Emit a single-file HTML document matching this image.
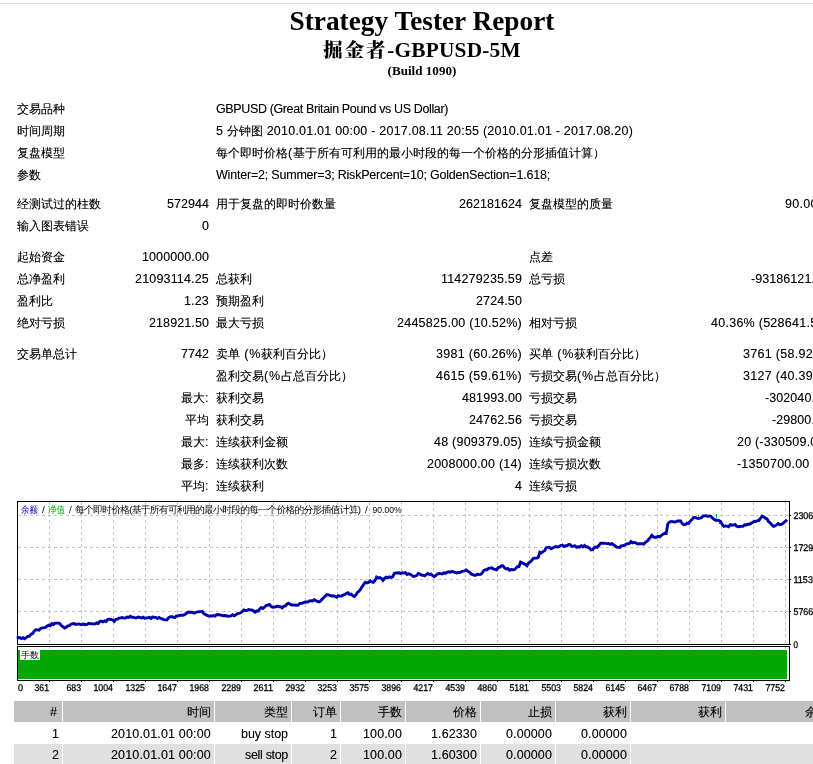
<!DOCTYPE html>
<html lang="zh-CN"><head><meta charset="utf-8"><title>Strategy Tester: 掘金者-GBPUSD-5M</title>
<style>
html,body{margin:0;padding:0;background:#fff}
#p{position:relative;width:813px;height:764px;overflow:hidden;background:#fff;color:#000;font:12px/22px "Liberation Sans","WenQuanYi Zen Hei",sans-serif}
.top{position:absolute;left:0;top:3px;width:813px;height:1px;background:#dedede}
.h{position:absolute;left:12px;width:820px;text-align:center;font-family:"Liberation Serif","Noto Serif CJK SC",serif;font-weight:bold;white-space:nowrap}
.h1{top:5px;font-size:27.3px;line-height:32px}
.h2{top:37px;font-size:21.33px;line-height:26px;letter-spacing:0.2px}
.h3{top:63px;font-size:13.1px;line-height:16px}
.hc{font-size:19.4px;letter-spacing:1.93px;font-weight:900;position:relative;top:-0.5px}
.t{position:absolute;white-space:pre;height:22px;line-height:22px;font-size:12px}
.t.r{width:400px;text-align:right}
.c{font-family:"WenQuanYi Zen Hei",sans-serif;font-size:12px;letter-spacing:0;text-shadow:0 0 0 rgba(0,0,0,.4)}
.a{font-size:12.5px;text-shadow:0 0 0 rgba(0,0,0,.35)}
.bg{position:absolute}
.ch{position:absolute;left:0;top:495px}
</style></head><body><div id="p">
<div class="top"></div>
<div class="h h1">Strategy Tester Report</div>
<div class="h h2"><span class="hc">掘金者</span>-GBPUSD-5M</div>
<div class="h h3">(Build 1090)</div>
<div class="bg" style="left:14px;top:701px;width:48px;height:21px;background:#c0c0c0"></div>
<div class="bg" style="left:63px;top:701px;width:151px;height:21px;background:#c0c0c0"></div>
<div class="bg" style="left:215px;top:701px;width:76px;height:21px;background:#c0c0c0"></div>
<div class="bg" style="left:292px;top:701px;width:48px;height:21px;background:#c0c0c0"></div>
<div class="bg" style="left:341px;top:701px;width:64px;height:21px;background:#c0c0c0"></div>
<div class="bg" style="left:406px;top:701px;width:74px;height:21px;background:#c0c0c0"></div>
<div class="bg" style="left:481px;top:701px;width:74px;height:21px;background:#c0c0c0"></div>
<div class="bg" style="left:556px;top:701px;width:74px;height:21px;background:#c0c0c0"></div>
<div class="bg" style="left:631px;top:701px;width:94px;height:21px;background:#c0c0c0"></div>
<div class="bg" style="left:726px;top:701px;width:106px;height:21px;background:#c0c0c0"></div>
<div class="bg" style="left:14px;top:744px;width:48px;height:21px;background:#e0e0e0"></div>
<div class="bg" style="left:63px;top:744px;width:151px;height:21px;background:#e0e0e0"></div>
<div class="bg" style="left:215px;top:744px;width:76px;height:21px;background:#e0e0e0"></div>
<div class="bg" style="left:292px;top:744px;width:48px;height:21px;background:#e0e0e0"></div>
<div class="bg" style="left:341px;top:744px;width:64px;height:21px;background:#e0e0e0"></div>
<div class="bg" style="left:406px;top:744px;width:74px;height:21px;background:#e0e0e0"></div>
<div class="bg" style="left:481px;top:744px;width:74px;height:21px;background:#e0e0e0"></div>
<div class="bg" style="left:556px;top:744px;width:74px;height:21px;background:#e0e0e0"></div>
<div class="bg" style="left:631px;top:744px;width:201px;height:21px;background:#e0e0e0"></div>
<svg class="ch" width="813" height="205" viewBox="0 495 813 205">
<path d="M49.5 502V650M81.5 502V650M113.5 502V650M145.5 502V650M177.5 502V650M209.5 502V650M241.5 502V650M273.5 502V650M305.5 502V650M337.5 502V650M369.5 502V650M401.5 502V650M433.5 502V650M465.5 502V650M497.5 502V650M529.5 502V650M561.5 502V650M593.5 502V650M625.5 502V650M657.5 502V650M689.5 502V650M721.5 502V650M753.5 502V650M785.5 502V650M18 515.5H789M18 547.5H789M18 579.5H789M18 611.5H789" fill="none" stroke="#c4c4c4" stroke-width="1" stroke-dasharray="3 3" shape-rendering="crispEdges"/>
<path d="M17.5 501.5H789.5V644.5H17.5ZM17.5 646.5H789.5V680.5H17.5Z" fill="none" stroke="#000" stroke-width="1" shape-rendering="crispEdges"/>
<path d="M49.5 681V682M81.5 681V682M113.5 681V682M145.5 681V682M177.5 681V682M209.5 681V682M241.5 681V682M273.5 681V682M305.5 681V682M337.5 681V682M369.5 681V682M401.5 681V682M433.5 681V682M465.5 681V682M497.5 681V682M529.5 681V682M561.5 681V682M593.5 681V682M625.5 681V682M657.5 681V682M689.5 681V682M721.5 681V682M753.5 681V682M785.5 681V682M790 515.5H791M790 547.5H791M790 579.5H791M790 611.5H791M790 644.5H791" fill="none" stroke="#000" stroke-width="1" shape-rendering="crispEdges"/>
<rect x="18" y="650" width="769" height="29" fill="#00a800" shape-rendering="crispEdges"/>
<rect x="20" y="650" width="20" height="10" fill="#fff" shape-rendering="crispEdges"/>
<path d="M716.5 514V518M719.5 521V524M666.5 529V533M698.5 515V517" fill="none" stroke="#00a800" stroke-width="1"/>
<path d="M18.2 637.6L19.8 637.5L21.4 638.6L23 637.7L24.6 638.8L26.2 637.7L27.8 636.4L29.4 636.4L31 634.2L32.6 633.5L34.2 631.2L35.8 629.7L37.4 629.9L39 630.2L40.6 628.5L42.2 627.9L43.8 627.8L45.4 627.5L47 626.2L48.6 625.2L50.2 625.7L51.8 623.6L53.4 624.6L55 623.2L56.6 623.1L58.2 623.1L59.8 623.6L61.4 625.7L63 626.7L64.6 628.1L66.2 627.2L67.8 625.8L69.4 625.6L71 624.2L72.6 623.7L74.2 623.5L75.8 624.4L77.4 624.1L79 624L80.6 624.6L82.2 624.5L83.8 624L85.4 624.7L87 624.4L88.6 623.3L90.2 623.7L91.8 623.6L93.4 624.1L95 623.8L96.6 622.9L98.2 623.5L99.8 621.4L101.4 621.3L103 621.8L104.6 620.8L106.2 621.5L107.8 619.4L109.4 619.3L111 619.4L112.6 620L114.2 621.4L115.8 619.4L117.4 619.2L119 618.1L120.6 617.9L122.2 617.5L123.8 618.1L125.4 618.1L127 617.1L128.6 617.4L130.2 616.3L131.8 617.3L133.4 617.2L135 617.9L136.6 617.8L138.2 617L139.8 617.3L141.4 618L143 617.2L144.6 618.3L146.2 618.1L147.8 617.8L149.4 617.4L151 618.4L152.6 617.1L154.2 617.3L155.8 617.4L157.4 618.5L159 617.4L160.6 618.4L162.2 618.8L163.8 619.7L165.4 619.9L167 619.8L168.6 617.6L170.2 616.8L171.8 616.5L173.4 617.3L175 617.4L176.6 615.8L178.2 615.7L179.8 615.4L181.4 615.1L183 615.2L184.6 614.7L186.2 613.5L187.8 612.3L189.4 612.3L191 612.1L192.6 612.5L194.2 613.1L195.8 612.5L197.4 611.9L199 611.7L200.6 611.6L202.2 611.4L203.8 613.8L205.4 614.4L207 615.4L208.6 616L210.2 615.9L211.8 616L213.4 615.6L215 616.2L216.6 614.7L218.2 614.5L219.8 615L221.4 615.1L223 615.7L224.6 615.5L226.2 615.7L227.8 616.3L229.4 616.1L231 615.9L232.6 614.7L234.2 615.7L235.8 614.8L237.4 613.6L239 613.4L240.6 612.8L242.2 611.6L243.8 609.9L245.4 610.5L247 610.6L248.6 609.6L250.2 609.9L251.8 610L253.4 610.8L255 612.1L256.6 611L258.2 611L259.8 608.8L261.4 607.6L263 608.5L264.6 607L266.2 605.5L267.8 605.1L269.4 604.5L271 606.3L272.6 607.3L274.2 607.1L275.8 606.8L277.4 606.1L279 606.7L280.6 606.7L282.2 607.8L283.8 606.4L285.4 605.9L287 604L288.6 603.2L290.2 604.4L291.8 605L293.4 605L295 605.1L296.6 605.3L298.2 605.1L299.8 603.5L301.4 603.4L303 602.9L304.6 602.2L306.2 602L307.8 602.1L309.4 600.9L311 600.7L312.6 600.9L314.2 599.7L315.8 600.6L317.4 601.3L319 601.9L320.6 601L322.2 599.1L323.8 597.5L325.4 596L327 594.6L328.6 594.8L330.2 595.7L331.8 596L333.4 595.8L335 596.5L336.6 597.2L338.2 595.6L339.8 596.1L341.4 596L343 595.2L344.6 594.6L346.2 593.5L347.8 592.8L349.4 594.4L351 594.1L352.6 595.5L354.2 596.4L355.8 595L357.4 592.4L359 591.1L360.6 589.2L362.2 586.6L363.8 584.4L365.4 582.2L367 582.9L368.6 582.4L370.2 580.9L371.8 581.9L373.4 582.4L375 580.5L376.6 577L378.2 577.9L379.8 577.6L381.4 578.4L383 580.4L384.6 578.4L386.2 577.1L387.8 577.8L389.4 576.8L391 577.5L392.6 576.8L394.2 573.7L395.8 573L397.4 573L399 572.8L400.6 573.4L402.2 572.8L403.8 573.1L405.4 572.6L407 574.4L408.6 573.7L410.2 574.3L411.8 575.1L413.4 576.5L415 576.1L416.6 575.6L418.2 573.5L419.8 574.1L421.4 575.1L423 575.2L424.6 575.8L426.2 574.6L427.8 573.5L429.4 574.4L431 574.1L432.6 575.6L434.2 576.7L435.8 575.4L437.4 574L439 573.5L440.6 573.6L442.2 574L443.8 572.8L445.4 573.3L447 572.3L448.6 571.8L450.2 572.2L451.8 571.4L453.4 571.8L455 572.4L456.6 573L458.2 572.5L459.8 572.5L461.4 571.7L463 571.1L464.6 570.9L466.2 570L467.8 571.2L469.4 572.1L471 574L472.6 574.5L474.2 575.2L475.8 575.3L477.4 574.1L479 574.6L480.6 574.4L482.2 573L483.8 570.5L485.4 569.7L487 569.7L488.6 568.4L490.2 568.1L491.8 567.8L493.4 569L495 569.4L496.6 569.9L498.2 567.6L499.8 567.1L501.4 565.9L503 565.8L504.6 568L506.2 569L507.8 568.4L509.4 570.2L511 569.6L512.6 569.8L514.2 569.7L515.8 568.5L517.4 566.6L519 566.5L520.6 562L522.2 562.9L523.8 563.6L525.4 564.4L527 565.8L528.6 562.8L530.2 562L531.8 560.3L533.4 558.3L535 558.1L536.6 558.1L538.2 557.4L539.8 552.2L541.4 552.9L543 551.6L544.6 550.7L546.2 547.7L547.8 547.4L549.4 547.2L551 548.8L552.6 548.1L554.2 547L555.8 546.6L557.4 547L559 546.7L560.6 545.6L562.2 545.2L563.8 546.5L565.4 545.7L567 545.8L568.6 544.6L570.2 544.7L571.8 546.3L573.4 546.2L575 545.8L576.6 547.3L578.2 546.7L579.8 546.9L581.4 545.6L583 546.9L584.6 545.5L586.2 547L587.8 546.9L589.4 548.1L591 549.9L592.6 549.7L594.2 547.7L595.8 547L597.4 547.2L599 545.3L600.6 543.2L602.2 543.3L603.8 543.1L605.4 543.4L607 543.6L608.6 543.5L610.2 544.4L611.8 543.5L613.4 544.7L615 545.7L616.6 547.1L618.2 547.4L619.8 547.5L621.4 545.8L623 545.9L624.6 545.2L626.2 544.1L627.8 543.8L629.4 543.4L631 541.5L632.6 542.9L634.2 542.4L635.8 542.9L637.4 544L639 543.7L640.6 543.7L642.2 543.8L643.8 544.2L645.4 542.3L647 541.4L648.6 539.5L650.2 537.7L651.8 535.5L653.4 536.9L655 537.4L656.6 537L658.2 536.4L659.8 536.9L661.4 535.3L663 534.3L664.6 533.3L666.2 533.5L667.8 523.9L669.4 522.1L671 521.4L672.6 521.6L674.2 522L675.8 521.9L677.4 520.9L679 521L680.6 520.9L682.2 523.5L683.8 524.8L685.4 524.5L687 523.1L688.6 523.5L690.2 521.2L691.8 519.8L693.4 517.6L695 517.5L696.6 518.1L698.2 518.6L699.8 518.2L701.4 517.8L703 516L704.6 515.9L706.2 515.7L707.8 516.4L709.4 515.9L711 516.4L712.6 518.2L714.2 519.4L715.8 520.2L717.4 520.1L719 520.5L720.6 521.5L722.2 524.4L723.8 526.4L725.4 525.9L727 526.1L728.6 526.8L730.2 524.7L731.8 525.2L733.4 525L735 524.4L736.6 526.3L738.2 526.8L739.8 526.5L741.4 526.4L743 526.3L744.6 524.7L746.2 524.9L747.8 524.3L749.4 524.2L751 523.4L752.6 522.6L754.2 521.3L755.8 521.5L757.4 520.7L759 520.4L760.6 518L762.2 516.1L763.8 516.9L765.4 518.2L767 518.8L768.6 521.8L770.2 522.9L771.8 524.7L773.4 526.4L775 525.9L776.6 524.9L778.2 523.6L779.8 524.8L781.4 524.5L783 523.3L784.6 522L786 520.7" fill="none" stroke="#0000b0" stroke-width="2.9" stroke-linejoin="miter" stroke-linecap="square"/>
<g font-family="'Liberation Sans','WenQuanYi Zen Hei',sans-serif" font-size="9.8px" fill="#000">
<text x="21" y="513" fill="#0000a8" textLength="17" lengthAdjust="spacingAndGlyphs">余额</text>
<text x="42" y="513">/</text>
<text x="48" y="513" fill="#00a800" textLength="17" lengthAdjust="spacingAndGlyphs">净值</text>
<text x="69" y="513">/</text>
<text x="75" y="513" textLength="286" lengthAdjust="spacing">每个即时价格(基于所有可利用的最小时段的每一个价格的分形插值计算)</text>
<text x="365" y="513">/</text>
<text x="372.5" y="513" textLength="29" lengthAdjust="spacingAndGlyphs">90.00%</text>
<text x="21" y="658" font-size="8.8px" textLength="18" lengthAdjust="spacingAndGlyphs">手数</text>
<g font-size="9.8px" stroke="#000" stroke-width="0.3" text-rendering="geometricPrecision">
<text x="18" y="691" textLength="5" lengthAdjust="spacingAndGlyphs">0</text>
<text x="34.5" y="691" textLength="14.5" lengthAdjust="spacingAndGlyphs">361</text>
<text x="66.5" y="691" textLength="14.5" lengthAdjust="spacingAndGlyphs">683</text>
<text x="93.5" y="691" textLength="19.5" lengthAdjust="spacingAndGlyphs">1004</text>
<text x="125.5" y="691" textLength="19.5" lengthAdjust="spacingAndGlyphs">1325</text>
<text x="157.5" y="691" textLength="19.5" lengthAdjust="spacingAndGlyphs">1647</text>
<text x="189.5" y="691" textLength="19.5" lengthAdjust="spacingAndGlyphs">1968</text>
<text x="221.5" y="691" textLength="19.5" lengthAdjust="spacingAndGlyphs">2289</text>
<text x="253.5" y="691" textLength="19.5" lengthAdjust="spacingAndGlyphs">2611</text>
<text x="285.5" y="691" textLength="19.5" lengthAdjust="spacingAndGlyphs">2932</text>
<text x="317.5" y="691" textLength="19.5" lengthAdjust="spacingAndGlyphs">3253</text>
<text x="349.5" y="691" textLength="19.5" lengthAdjust="spacingAndGlyphs">3575</text>
<text x="381.5" y="691" textLength="19.5" lengthAdjust="spacingAndGlyphs">3896</text>
<text x="413.5" y="691" textLength="19.5" lengthAdjust="spacingAndGlyphs">4217</text>
<text x="445.5" y="691" textLength="19.5" lengthAdjust="spacingAndGlyphs">4539</text>
<text x="477.5" y="691" textLength="19.5" lengthAdjust="spacingAndGlyphs">4860</text>
<text x="509.5" y="691" textLength="19.5" lengthAdjust="spacingAndGlyphs">5181</text>
<text x="541.5" y="691" textLength="19.5" lengthAdjust="spacingAndGlyphs">5503</text>
<text x="573.5" y="691" textLength="19.5" lengthAdjust="spacingAndGlyphs">5824</text>
<text x="605.5" y="691" textLength="19.5" lengthAdjust="spacingAndGlyphs">6145</text>
<text x="637.5" y="691" textLength="19.5" lengthAdjust="spacingAndGlyphs">6467</text>
<text x="669.5" y="691" textLength="19.5" lengthAdjust="spacingAndGlyphs">6788</text>
<text x="701.5" y="691" textLength="19.5" lengthAdjust="spacingAndGlyphs">7109</text>
<text x="733.5" y="691" textLength="19.5" lengthAdjust="spacingAndGlyphs">7431</text>
<text x="765.5" y="691" textLength="19.5" lengthAdjust="spacingAndGlyphs">7752</text>
<text x="793.5" y="519" textLength="39.5" lengthAdjust="spacingAndGlyphs">23064048</text>
<text x="793.5" y="551" textLength="39.5" lengthAdjust="spacingAndGlyphs">17298036</text>
<text x="793.5" y="583" textLength="39.5" lengthAdjust="spacingAndGlyphs">11532024</text>
<text x="793.5" y="615" textLength="34.5" lengthAdjust="spacingAndGlyphs">5766012</text>
<text x="793.5" y="648" textLength="4.5" lengthAdjust="spacingAndGlyphs">0</text>
</g></g></svg>
<div class="t" style="left:17px;top:98px"><span class="c">交易品种</span></div>
<div class="t" style="left:216px;top:98px"><span class="a" style="letter-spacing:-0.373px">GBPUSD (Great Britain Pound vs US Dollar)</span></div>
<div class="t" style="left:17px;top:120px"><span class="c">时间周期</span></div>
<div class="t" style="left:216px;top:120px"><span class="a" style="letter-spacing:0.281px">5 </span><span class="c">分钟图</span><span class="a" style="letter-spacing:0.221px"> 2010.01.01 00:00 - 2017.08.11 20:55 (2010.01.01 - 2017.08.20)</span></div>
<div class="t" style="left:17px;top:142px"><span class="c">复盘模型</span></div>
<div class="t" style="left:216px;top:142px"><span class="c">每个即时价格</span><span class="a" style="letter-spacing:0.828px">(</span><span class="c">基于所有可利用的最小时段的每一个价格的分形插值计算）</span></div>
<div class="t" style="left:17px;top:164px"><span class="c">参数</span></div>
<div class="t" style="left:216px;top:164px"><span class="a" style="letter-spacing:-0.202px">Winter=2; Summer=3; RiskPercent=10; GoldenSection=1.618;</span></div>
<div class="t" style="left:17px;top:193px"><span class="c">经测试过的柱数</span></div>
<div class="t r" style="left:-191px;top:193px"><span class="a" style="letter-spacing:0.047px">572944</span></div>
<div class="t" style="left:216px;top:193px"><span class="c">用于复盘的即时价数量</span></div>
<div class="t r" style="left:122px;top:193px"><span class="a" style="letter-spacing:0.047px">262181624</span></div>
<div class="t" style="left:529px;top:193px"><span class="c">复盘模型的质量</span></div>
<div class="t r" style="left:429px;top:193px"><span class="a" style="letter-spacing:0.266px">90.00%</span></div>
<div class="t" style="left:17px;top:215px"><span class="c">输入图表错误</span></div>
<div class="t r" style="left:-191px;top:215px"><span class="a" style="letter-spacing:0.047px">0</span></div>
<div class="t" style="left:17px;top:246px"><span class="c">起始资金</span></div>
<div class="t r" style="left:-191px;top:246px"><span class="a" style="letter-spacing:0.095px">1000000.00</span></div>
<div class="t" style="left:529px;top:246px"><span class="c">点差</span></div>
<div class="t" style="left:17px;top:268px"><span class="c">总净盈利</span></div>
<div class="t r" style="left:-191px;top:268px"><span class="a" style="letter-spacing:0.175px">21093114.25</span></div>
<div class="t" style="left:216px;top:268px"><span class="c">总获利</span></div>
<div class="t r" style="left:122px;top:268px"><span class="a" style="letter-spacing:0.164px">114279235.59</span></div>
<div class="t" style="left:529px;top:268px"><span class="c">总亏损</span></div>
<div class="t r" style="left:429px;top:268px"><span class="a" style="letter-spacing:0.070px">-93186121.34</span></div>
<div class="t" style="left:17px;top:290px"><span class="c">盈利比</span></div>
<div class="t r" style="left:-191px;top:290px"><span class="a" style="letter-spacing:0.164px">1.23</span></div>
<div class="t" style="left:216px;top:290px"><span class="c">预期盈利</span></div>
<div class="t r" style="left:122px;top:290px"><span class="a" style="letter-spacing:0.116px">2724.50</span></div>
<div class="t" style="left:17px;top:312px"><span class="c">绝对亏损</span></div>
<div class="t r" style="left:-191px;top:312px"><span class="a" style="letter-spacing:0.101px">218921.50</span></div>
<div class="t" style="left:216px;top:312px"><span class="c">最大亏损</span></div>
<div class="t r" style="left:122px;top:312px"><span class="a" style="letter-spacing:0.251px">2445825.00 (10.52%)</span></div>
<div class="t" style="left:529px;top:312px"><span class="c">相对亏损</span></div>
<div class="t r" style="left:429px;top:312px"><span class="a" style="letter-spacing:0.262px">40.36% (528641.50)</span></div>
<div class="t" style="left:17px;top:343px"><span class="c">交易单总计</span></div>
<div class="t r" style="left:-191px;top:343px"><span class="a" style="letter-spacing:0.047px">7742</span></div>
<div class="t" style="left:216px;top:343px"><span class="c">卖单</span><span class="a" style="letter-spacing:0.750px"> (%</span><span class="c">获利百分比）</span></div>
<div class="t r" style="left:122px;top:343px"><span class="a" style="letter-spacing:0.306px">3981 (60.26%)</span></div>
<div class="t" style="left:529px;top:343px"><span class="c">买单</span><span class="a" style="letter-spacing:0.750px"> (%</span><span class="c">获利百分比）</span></div>
<div class="t r" style="left:429px;top:343px"><span class="a" style="letter-spacing:0.306px">3761 (58.92%)</span></div>
<div class="t" style="left:216px;top:365px"><span class="c">盈利交易</span><span class="a" style="letter-spacing:0.859px">(%</span><span class="c">占总百分比）</span></div>
<div class="t r" style="left:122px;top:365px"><span class="a" style="letter-spacing:0.306px">4615 (59.61%)</span></div>
<div class="t" style="left:529px;top:365px"><span class="c">亏损交易</span><span class="a" style="letter-spacing:0.859px">(%</span><span class="c">占总百分比）</span></div>
<div class="t r" style="left:429px;top:365px"><span class="a" style="letter-spacing:0.306px">3127 (40.39%)</span></div>
<div class="t r" style="left:-191px;top:387px"><span class="c">最大</span><span class="a" style="letter-spacing:0.516px">:</span></div>
<div class="t" style="left:216px;top:387px"><span class="c">获利交易</span></div>
<div class="t r" style="left:122px;top:387px"><span class="a" style="letter-spacing:0.101px">481993.00</span></div>
<div class="t" style="left:529px;top:387px"><span class="c">亏损交易</span></div>
<div class="t r" style="left:429px;top:387px"><span class="a" style="letter-spacing:0.073px">-302040.00</span></div>
<div class="t r" style="left:-191px;top:409px"><span class="c">平均</span></div>
<div class="t" style="left:216px;top:409px"><span class="c">获利交易</span></div>
<div class="t r" style="left:122px;top:409px"><span class="a" style="letter-spacing:0.107px">24762.56</span></div>
<div class="t" style="left:529px;top:409px"><span class="c">亏损交易</span></div>
<div class="t r" style="left:429px;top:409px"><span class="a" style="letter-spacing:0.076px">-29800.62</span></div>
<div class="t r" style="left:-191px;top:431px"><span class="c">最大</span><span class="a" style="letter-spacing:0.516px">:</span></div>
<div class="t" style="left:216px;top:431px"><span class="c">连续获利金额</span></div>
<div class="t r" style="left:122px;top:431px"><span class="a" style="letter-spacing:0.229px">48 (909379.05)</span></div>
<div class="t" style="left:529px;top:431px"><span class="c">连续亏损金额</span></div>
<div class="t r" style="left:429px;top:431px"><span class="a" style="letter-spacing:0.203px">20 (-330509.00)</span></div>
<div class="t r" style="left:-191px;top:453px"><span class="c">最多</span><span class="a" style="letter-spacing:0.516px">:</span></div>
<div class="t" style="left:216px;top:453px"><span class="c">连续获利次数</span></div>
<div class="t r" style="left:122px;top:453px"><span class="a" style="letter-spacing:0.217px">2008000.00 (14)</span></div>
<div class="t" style="left:529px;top:453px"><span class="c">连续亏损次数</span></div>
<div class="t r" style="left:429px;top:453px"><span class="a" style="letter-spacing:0.203px">-1350700.00 (9)</span></div>
<div class="t r" style="left:-191px;top:475px"><span class="c">平均</span><span class="a" style="letter-spacing:0.516px">:</span></div>
<div class="t" style="left:216px;top:475px"><span class="c">连续获利</span></div>
<div class="t r" style="left:122px;top:475px"><span class="a" style="letter-spacing:0.047px">4</span></div>
<div class="t" style="left:529px;top:475px"><span class="c">连续亏损</span></div>
<div class="t r" style="left:429px;top:475px"><span class="a" style="letter-spacing:0.047px">4</span></div>
<div class="t r" style="left:-341px;top:701px"><span class="a" style="letter-spacing:2.047px">#</span></div>
<div class="t r" style="left:-189px;top:701px"><span class="c">时间</span></div>
<div class="t r" style="left:-112px;top:701px"><span class="c">类型</span></div>
<div class="t r" style="left:-63px;top:701px"><span class="c">订单</span></div>
<div class="t r" style="left:2px;top:701px"><span class="c">手数</span></div>
<div class="t r" style="left:77px;top:701px"><span class="c">价格</span></div>
<div class="t r" style="left:152px;top:701px"><span class="c">止损</span></div>
<div class="t r" style="left:227px;top:701px"><span class="c">获利</span></div>
<div class="t r" style="left:322px;top:701px"><span class="c">获利</span></div>
<div class="t r" style="left:429px;top:701px"><span class="c">余额</span></div>
<div class="t r" style="left:-341px;top:723px"><span class="a" style="letter-spacing:0.047px">1</span></div>
<div class="t r" style="left:-189px;top:723px"><span class="a" style="letter-spacing:0.167px">2010.01.01 00:00</span></div>
<div class="t r" style="left:-112px;top:723px"><span class="a" style="letter-spacing:-0.033px">buy stop</span></div>
<div class="t r" style="left:-63px;top:723px"><span class="a" style="letter-spacing:0.047px">1</span></div>
<div class="t r" style="left:2px;top:723px"><span class="a" style="letter-spacing:0.128px">100.00</span></div>
<div class="t r" style="left:77px;top:723px"><span class="a" style="letter-spacing:0.116px">1.62330</span></div>
<div class="t r" style="left:152px;top:723px"><span class="a" style="letter-spacing:0.116px">0.00000</span></div>
<div class="t r" style="left:227px;top:723px"><span class="a" style="letter-spacing:0.116px">0.00000</span></div>
<div class="t r" style="left:-341px;top:744px"><span class="a" style="letter-spacing:0.047px">2</span></div>
<div class="t r" style="left:-189px;top:744px"><span class="a" style="letter-spacing:0.167px">2010.01.01 00:00</span></div>
<div class="t r" style="left:-112px;top:744px"><span class="a" style="letter-spacing:-0.318px">sell stop</span></div>
<div class="t r" style="left:-63px;top:744px"><span class="a" style="letter-spacing:0.047px">2</span></div>
<div class="t r" style="left:2px;top:744px"><span class="a" style="letter-spacing:0.128px">100.00</span></div>
<div class="t r" style="left:77px;top:744px"><span class="a" style="letter-spacing:0.116px">1.60300</span></div>
<div class="t r" style="left:152px;top:744px"><span class="a" style="letter-spacing:0.116px">0.00000</span></div>
<div class="t r" style="left:227px;top:744px"><span class="a" style="letter-spacing:0.116px">0.00000</span></div>
</div></body></html>
